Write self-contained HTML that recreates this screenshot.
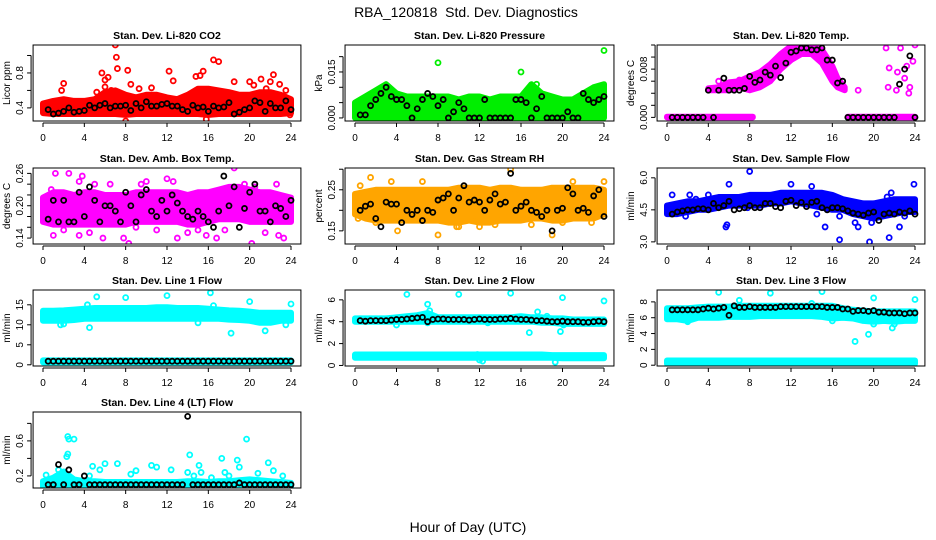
<!DOCTYPE html>
<html><head><meta charset="utf-8">
<style>
body{margin:0;background:#fff;}
svg{display:block;font-family:"Liberation Sans",Arial,sans-serif;}
.pt{fill:none;stroke-width:1.8;}
</style></head>
<body>
<svg id="chart" width="936" height="540" viewBox="0 0 936 540" xmlns="http://www.w3.org/2000/svg">
<rect width="936" height="540" fill="#fff"/>
<text x="466" y="17" font-size="14" text-anchor="middle">RBA_120818&#160; Std. Dev. Diagnostics</text>
<text x="468" y="532" font-size="14" text-anchor="middle">Hour of Day (UTC)</text>
</svg>
<script>
// shared hours
const blackHours=[0.5,1,1.5,2,2.5,3,3.5,4,4.5,5,5.5,6,6.5,7,7.5,8,8.5,9,9.5,10,10.5,11,11.5,12,12.5,13,13.5,14,14.5,15,15.5,16,16.5,17,17.5,18,18.5,19,19.5,20,20.5,21,21.5,22,22.5,23,23.5,24];
const bandHours=[0,1,2,3,4,5,6,7,8,9,10,11,12,13,14,15,16,17,18,19,20,21,22,23,24];
const xTicks=[0,4,8,12,16,20,24];

// P1 CO2
const co2Black=[0.38,0.33,0.34,0.36,0.40,0.35,0.36,0.37,0.43,0.40,0.43,0.45,0.40,0.42,0.42,0.43,0.37,0.45,0.40,0.47,0.42,0.42,0.44,0.45,0.42,0.42,0.38,0.36,0.43,0.40,0.41,0.36,0.42,0.40,0.41,0.46,0.33,0.35,0.38,0.40,0.48,0.46,0.36,0.45,0.40,0.40,0.48,0.38];
const co2Lo=[0.34,0.33,0.33,0.33,0.33,0.33,0.33,0.33,0.32,0.33,0.33,0.33,0.33,0.33,0.33,0.33,0.32,0.33,0.33,0.33,0.33,0.33,0.33,0.33,0.34];
const co2Hi=[0.45,0.48,0.50,0.48,0.48,0.50,0.58,0.60,0.55,0.52,0.55,0.55,0.52,0.50,0.55,0.62,0.62,0.60,0.58,0.55,0.55,0.58,0.58,0.55,0.50];
const co2OutX=[1.8,2,5.7,6,6.3,6,6.6,7,7.1,7.2,8.2,8.5,5.2,12.2,12.6,14.8,15.2,15.5,16.5,17,18.5,20,20.4,21.1,21.6,22.3,22,22.9,23.5,8,15.8,23.9,10.5,9.3];
const co2OutY=[0.6,0.68,0.8,0.72,0.75,0.64,0.6,1.12,0.98,0.85,0.83,0.67,0.58,0.82,0.71,0.76,0.77,0.82,0.95,0.93,0.7,0.7,0.66,0.73,0.62,0.78,0.7,0.67,0.6,0.25,0.27,0.32,0.63,0.62];

// P2 Pressure
const presBlack=[0.001,0.001,0.004,0.006,0.008,0.010,0.007,0.006,0.006,0.004,0.000,0.003,0.006,0.008,0.007,0.004,0.006,0.000,0.002,0.005,0.003,0.000,0.000,0.000,0.006,0.000,0.000,0.000,0.000,0.000,0.006,0.006,0.005,0.000,0.003,0.007,0.000,0.000,0.000,0.000,0.002,0.000,0.000,0.008,0.006,0.005,0.006,0.007];
const presLo=[0,0,0,0,0,0,0,0,0,0,0,0,0,0,0,0,0,0,0,0,0,0,0,0,0];
const presHi=[0.005,0.007,0.009,0.011,0.008,0.007,0.007,0.007,0.007,0.007,0.006,0.007,0.007,0.006,0.007,0.007,0.007,0.011,0.008,0.007,0.006,0.006,0.008,0.010,0.011];
const presOutX=[8,16,24,17.5,23.5,9.5];
const presOutY=[0.018,0.015,0.022,0.011,0.010,0.004];

// P3 Temp
const tempBlack=[0,0,0,0,0,0,0,0.0045,0,0.0045,0.0065,0.0045,0.0045,0.0045,0.0048,0.0068,0.0058,0.0062,0.0075,0.007,0.0085,0.0066,0.009,0.0108,0.011,0.0115,0.0115,0.0112,0.0112,0.0115,0.0095,0.0095,0.0057,0.006,0,0,0,0,0,0,0,0,0,0,0.0055,0.0080,0.0102,0];
const tempArchX=[4,5,6,7,8,9,10,11,12,13,14,15,16,16.5,17.2];
const tempArchLo=[0.0045,0.0045,0.0045,0.005,0.0045,0.005,0.006,0.008,0.0095,0.0105,0.0105,0.009,0.006,0.005,0.0045];
const tempArchHi=[0.0048,0.005,0.0058,0.006,0.0068,0.0075,0.0088,0.0105,0.0118,0.0118,0.0118,0.0112,0.0085,0.0065,0.005];
const tempZeroX1=[0,8.3];const tempZeroX2=[17.5,24];
const tempZeroLo=[0,0];const tempZeroHi=[0.0001,0.0001];
const tempOutX=[21.2,21.5,21.4,22.2,22.3,22.6,23,23.2,23.4,23.8,24,23.5,18.5,5,6,7];
const tempOutY=[0.0115,0.0082,0.005,0.0045,0.0075,0.0115,0.0065,0.0085,0.004,0.0093,0.012,0.005,0.0045,0.006,0.0055,0.0062];

// P4 Amb Box Temp
const ambBlack=[0.175,0.21,0.17,0.21,0.17,0.17,0.225,0.18,0.235,0.21,0.17,0.2,0.2,0.19,0.17,0.225,0.2,0.17,0.22,0.23,0.19,0.18,0.21,0.19,0.22,0.205,0.19,0.18,0.175,0.19,0.18,0.17,0.16,0.19,0.255,0.2,0.235,0.16,0.195,0.225,0.24,0.19,0.19,0.17,0.2,0.195,0.18,0.21];
const ambLo=[0.17,0.165,0.165,0.165,0.165,0.165,0.165,0.165,0.165,0.17,0.17,0.17,0.17,0.17,0.165,0.165,0.17,0.175,0.175,0.175,0.17,0.17,0.17,0.17,0.17];
const ambHi=[0.215,0.225,0.225,0.22,0.225,0.225,0.22,0.22,0.22,0.225,0.225,0.225,0.225,0.225,0.22,0.225,0.225,0.23,0.235,0.235,0.23,0.225,0.225,0.22,0.215];
const ambOutX=[1.2,2.5,3.5,3.8,1,3.5,4.5,5.8,7.8,8.3,9.5,10,12,12.6,13,14,15.8,16.8,18.5,19.5,20.2,22.6,22.8,23.3,17.6,21.5,2,6.5,11,0.8,5,9,15,20.5];
const ambOutY=[0.26,0.26,0.245,0.255,0.145,0.145,0.15,0.14,0.14,0.13,0.24,0.245,0.25,0.245,0.14,0.15,0.145,0.14,0.27,0.24,0.13,0.24,0.145,0.14,0.155,0.15,0.155,0.24,0.155,0.23,0.24,0.16,0.155,0.235];

// P5 Gas Stream RH
const rhBlack=[0.2,0.21,0.215,0.18,0.16,0.22,0.215,0.215,0.17,0.2,0.19,0.2,0.175,0.2,0.195,0.225,0.23,0.24,0.2,0.23,0.26,0.22,0.225,0.22,0.2,0.225,0.24,0.215,0.22,0.29,0.2,0.21,0.22,0.2,0.195,0.185,0.2,0.15,0.2,0.205,0.255,0.24,0.2,0.205,0.195,0.235,0.25,0.185];
const rhLo=[0.19,0.18,0.175,0.175,0.175,0.175,0.175,0.175,0.175,0.17,0.17,0.175,0.17,0.17,0.175,0.175,0.175,0.18,0.18,0.175,0.175,0.18,0.18,0.18,0.19];
const rhHi=[0.24,0.245,0.25,0.25,0.25,0.25,0.25,0.25,0.25,0.25,0.255,0.255,0.255,0.25,0.255,0.255,0.25,0.25,0.25,0.255,0.255,0.255,0.255,0.255,0.25];
const rhOutX=[0.5,1.5,2,4,4.1,8,15,19,24,12,20,22.8,10,3.5,6.5,9.8,13.5,17,21,0.3];
const rhOutY=[0.26,0.28,0.17,0.11,0.15,0.14,0.3,0.14,0.27,0.16,0.17,0.17,0.16,0.27,0.27,0.16,0.165,0.165,0.27,0.18];

// P6 Sample Flow
const sampBlack=[4.3,4.4,4.45,4.5,4.5,4.55,4.55,4.5,4.8,4.6,4.7,4.9,4.5,4.55,4.6,4.7,4.6,4.6,4.8,4.8,4.65,4.6,4.9,4.95,4.7,4.85,4.65,4.85,4.9,4.6,4.5,4.6,4.6,4.55,4.45,4.35,4.3,4.25,4.35,4.4,4.0,4.3,4.35,4.3,4.4,4.35,4.45,4.3];
const sampLo=[4.3,4.3,4.4,4.5,4.5,4.6,4.7,4.7,4.7,4.7,4.8,4.8,4.9,4.8,4.7,4.6,4.5,4.5,4.3,4.2,4.1,4.2,4.3,4.4,4.4];
const sampHi=[4.7,4.8,4.9,4.9,5.0,5.1,5.1,5.1,5.2,5.2,5.2,5.3,5.3,5.3,5.3,5.3,5.2,5.0,4.9,4.8,4.8,4.9,5.0,5.0,5.0];
const sampOutX=[0.5,2.2,4,6,8,12,14,5.7,5.8,7.8,14.5,15.3,16.7,16.7,18.2,18.5,19.6,19.8,21.5,22.5,23,23.9,21.7,21.3,1.8,2.8];
const sampOutY=[5.2,5.2,5.2,5.7,6.3,5.7,5.6,3.7,3.8,4.6,4.3,3.7,3.1,4.2,3.9,3.7,3.0,3.9,3.2,3.7,4.2,5.7,5.3,5.1,4.2,5.0];

// P7 Line 1 Flow
const l1Black=[0.9,0.9,0.9,0.9,0.9,0.9,0.9,0.9,0.9,0.9,0.9,0.9,0.9,0.9,0.9,0.9,0.9,0.9,0.9,0.9,0.9,0.9,0.9,0.9,0.9,0.9,0.9,0.9,0.9,0.9,0.9,0.9,0.9,0.9,0.9,0.9,0.9,0.9,0.9,0.9,0.9,0.9,0.9,0.9,0.9,0.9,0.9,0.9];
const l1Lo=[11,11,11,11.2,11.5,11.5,11.5,11.5,11.5,11.5,11.5,11.5,11.5,11.5,11.5,11.5,11.5,11.5,11.3,11.2,11,10.5,10.5,11,11];
const l1Hi=[13.5,13.5,13.6,13.8,14,14.2,14.2,14.2,14.2,14.2,14.2,14.4,14.4,14.2,14.2,14.2,14,13.8,13.6,13.5,13.3,13,13,13,13];
const l1BaseLo=[0.6,0.6,0.6,0.6,0.6,0.6,0.6,0.6,0.6,0.6,0.6,0.6,0.6,0.6,0.6,0.6,0.6,0.6,0.6,0.6,0.6,0.6,0.6,0.6,0.6];
const l1BaseHi=[1.1,1.1,1.1,1.1,1.1,1.1,1.1,1.1,1.1,1.1,1.1,1.1,1.1,1.1,1.1,1.1,1.1,1.1,1.1,1.1,1.1,1.1,1.1,1.1,1.1];
const l1OutX=[5.2,8,12,16.2,20,24,4.3,4.5,1.7,18.2,21.5,23.5,16.5,15,2];
const l1OutY=[17,16.8,17.3,18,15.8,15.2,15,9.3,10,7.9,8.5,10,14.8,10.5,10.2];

// P8 Line 2 Flow
const l2Black=[4.1,4.05,4.1,4.1,4.1,4.1,4.15,4.2,4.2,4.25,4.3,4.35,4.4,4.0,4.2,4.25,4.25,4.2,4.2,4.2,4.2,4.15,4.2,4.25,4.2,4.2,4.2,4.25,4.25,4.3,4.25,4.2,4.2,4.15,4.1,4.1,4.05,4.0,4.0,4.05,4.0,4.0,4.0,3.95,3.95,4.0,4.05,4.0];
const l2Lo=[4.0,4.0,4.0,4.0,4.0,4.0,4.0,4.0,4.0,4.0,4.0,4.0,4.0,4.0,4.0,4.0,4.0,4.0,3.9,3.9,3.8,3.8,3.8,3.8,3.8];
const l2Hi=[4.3,4.3,4.3,4.3,4.4,4.5,4.6,4.8,4.4,4.4,4.4,4.4,4.4,4.4,4.4,4.4,4.5,4.4,4.4,4.3,4.3,4.2,4.2,4.2,4.2];
const l2BaseLo=[0.7,0.7,0.7,0.7,0.7,0.7,0.7,0.7,0.7,0.7,0.7,0.7,0.7,0.7,0.7,0.7,0.7,0.7,0.7,0.7,0.65,0.65,0.65,0.65,0.65];
const l2BaseHi=[1.0,1.0,1.0,1.0,1.0,1.0,1.0,1.0,1.0,1.0,1.0,1.0,1.0,1.0,1.0,1.0,1.0,1.0,1.0,0.95,0.95,0.95,0.95,0.95,0.95];
const l2OutX=[5,10,15,20,24,7,7.2,4,7,12.8,17.6,18.5,19.8,20.1,16.8,19.3,12,12.3,11.8];
const l2OutY=[6.5,6.5,6.6,6.2,5.9,5.6,5.0,3.7,3.9,3.9,4.9,4.5,3.1,3.7,3.0,0.3,0.5,0.4,1.0];

// P9 Line 3 Flow
const l3Black=[7.0,7.0,7.0,7.0,7.0,7.0,7.1,7.2,7.1,7.2,7.3,6.3,7.5,7.3,7.3,7.4,7.3,7.3,7.3,7.3,7.3,7.4,7.4,7.4,7.4,7.4,7.4,7.4,7.4,7.4,7.3,7.3,7.3,7.1,7.1,6.8,6.9,6.9,6.8,6.9,6.7,6.7,6.6,6.6,6.6,6.5,6.6,6.6];
const l3Lo=[5.8,5.8,5.6,6,6,6,6.1,6.1,6.1,6.2,6.2,6.2,6.2,6.2,6.2,6.1,5.9,6,5.9,5.6,5.5,5.6,5.5,5.6,5.6];
const l3Hi=[7.2,7.2,7.2,7.3,7.4,7.4,7.4,7.5,7.5,7.5,7.5,7.5,7.5,7.5,7.5,7.5,7.5,7.2,7.0,6.9,6.8,6.8,6.8,6.8,6.8];
const l3BaseLo=[0.2,0.2,0.2,0.2,0.2,0.2,0.2,0.2,0.2,0.2,0.2,0.2,0.2,0.2,0.2,0.2,0.2,0.2,0.2,0.2,0.2,0.2,0.2,0.2,0.2];
const l3BaseHi=[0.6,0.6,0.6,0.6,0.6,0.6,0.6,0.6,0.6,0.6,0.6,0.6,0.6,0.6,0.6,0.6,0.6,0.6,0.6,0.6,0.6,0.6,0.6,0.6,0.6];
const l3OutX=[5,10,15,20,24,7,18.2,19.5,21.8,20,22,14,2,16];
const l3OutY=[9.2,9.1,9.3,8.5,8.3,8.2,3.0,3.9,4.7,5.2,5.2,7.8,5.5,5.6];

// P10 Line 4 (LT) Flow
const l4Black=[0.1,0.1,0.33,0.1,0.27,0.1,0.1,0.2,0.1,0.1,0.1,0.1,0.1,0.1,0.1,0.1,0.1,0.1,0.1,0.1,0.1,0.1,0.1,0.1,0.1,0.1,0.1,0.88,0.1,0.1,0.1,0.1,0.1,0.1,0.1,0.1,0.1,0.12,0.1,0.1,0.1,0.1,0.1,0.1,0.1,0.1,0.1,0.1];
const l4Lo=[0.07,0.07,0.07,0.07,0.07,0.07,0.07,0.07,0.07,0.07,0.07,0.07,0.07,0.07,0.07,0.07,0.07,0.07,0.07,0.07,0.07,0.07,0.07,0.07,0.07];
const l4Hi=[0.14,0.18,0.25,0.16,0.14,0.14,0.13,0.13,0.13,0.13,0.13,0.13,0.13,0.13,0.14,0.14,0.13,0.14,0.14,0.15,0.16,0.15,0.14,0.13,0.12];
const l4OutX=[0.3,1.5,2.4,2.5,3,2.3,2.4,4.5,4.8,5.5,6,7.2,8.5,9,10.5,11,12.4,14,14.2,14.6,15.1,15.3,16.3,17.3,17.6,18,18.8,19,19.7,20.8,21.8,22.3,23.2];
const l4OutY=[0.21,0.27,0.65,0.62,0.62,0.42,0.45,0.2,0.31,0.27,0.34,0.34,0.22,0.26,0.32,0.3,0.27,0.24,0.44,0.2,0.32,0.24,0.18,0.4,0.24,0.2,0.38,0.3,0.62,0.23,0.35,0.26,0.2];

const svg=document.getElementById('chart');
const NS='http://www.w3.org/2000/svg';
function mk(tag,attrs,parent){const e=document.createElementNS(NS,tag);for(const k in attrs)e.setAttribute(k,attrs[k]);(parent||svg).appendChild(e);return e;}

const colX=[[43,291],[355,604],[667,915]];
const rowTop=[45,168,290,412];
const H=76;

const panels=[
 {name:'co2',title:'Stan. Dev. Li-820 CO2',ylab:'Licor ppm',col:0,row:0,ymin:0.25,ymax:1.12,ticks:[0.4,0.6,0.8,1.0],labels:['0.4','','0.8',''],color:'#ff0000',
  bands:[[bandHours,co2Lo,co2Hi]],outX:co2OutX,outY:co2OutY,black:co2Black},
 {name:'pressure',title:'Stan. Dev. Li-820 Pressure',ylab:'kPa',col:1,row:0,ymin:-0.001,ymax:0.0238,ticks:[0,0.005,0.01,0.015,0.02],labels:['0.000','','','0.015',''],color:'#00ee00',
  bands:[[bandHours,presLo,presHi]],outX:presOutX,outY:presOutY,black:presBlack},
 {name:'li820-temp',title:'Stan. Dev. Li-820 Temp.',ylab:'degrees C',col:2,row:0,ymin:-0.0006,ymax:0.012,ticks:[0,0.002,0.004,0.006,0.008,0.010,0.012],labels:['0.000','','','','0.008','',''],color:'#ff00ff',
  bands:[[tempArchX,tempArchLo,tempArchHi],[tempZeroX1,tempZeroLo,tempZeroHi],[tempZeroX2,tempZeroLo,tempZeroHi]],outX:tempOutX,outY:tempOutY,black:tempBlack},
 {name:'amb-box-temp',title:'Stan. Dev. Amb. Box Temp.',ylab:'degrees C',col:0,row:1,ymin:0.129,ymax:0.27,ticks:[0.14,0.16,0.18,0.20,0.22,0.24,0.26],labels:['0.14','','','0.20','','','0.26'],color:'#ff00ff',
  bands:[[bandHours,ambLo,ambHi]],outX:ambOutX,outY:ambOutY,black:ambBlack},
 {name:'gas-stream-rh',title:'Stan. Dev. Gas Stream RH',ylab:'percent',col:1,row:1,ymin:0.118,ymax:0.303,ticks:[0.15,0.2,0.25,0.3],labels:['0.15','','0.25',''],color:'#ffa500',
  bands:[[bandHours,rhLo,rhHi]],outX:rhOutX,outY:rhOutY,black:rhBlack},
 {name:'sample-flow',title:'Stan. Dev. Sample Flow',ylab:'ml/min',col:2,row:1,ymin:2.9,ymax:6.46,ticks:[3,4.5,6],labels:['3.0','4.5','6.0'],color:'#0000ff',
  bands:[[bandHours,sampLo,sampHi]],outX:sampOutX,outY:sampOutY,black:sampBlack},
 {name:'line1-flow',title:'Stan. Dev. Line 1 Flow',ylab:'ml/min',col:0,row:2,ymin:-0.3,ymax:18.7,ticks:[0,5,10,15],labels:['0','5','10','15'],color:'#00ffff',
  bands:[[bandHours,l1Lo,l1Hi],[bandHours,l1BaseLo,l1BaseHi]],outX:l1OutX,outY:l1OutY,black:l1Black},
 {name:'line2-flow',title:'Stan. Dev. Line 2 Flow',ylab:'ml/min',col:1,row:2,ymin:-0.05,ymax:6.9,ticks:[0,2,4,6],labels:['0','2','4','6'],color:'#00ffff',
  bands:[[bandHours,l2Lo,l2Hi],[bandHours,l2BaseLo,l2BaseHi]],outX:l2OutX,outY:l2OutY,black:l2Black},
 {name:'line3-flow',title:'Stan. Dev. Line 3 Flow',ylab:'ml/min',col:2,row:2,ymin:-0.1,ymax:9.5,ticks:[0,2,4,6,8],labels:['0','2','4','6','8'],color:'#00ffff',
  bands:[[bandHours,l3Lo,l3Hi],[bandHours,l3BaseLo,l3BaseHi]],outX:l3OutX,outY:l3OutY,black:l3Black},
 {name:'line4-flow',title:'Stan. Dev. Line 4 (LT) Flow',ylab:'ml/min',col:0,row:3,ymin:0.062,ymax:0.93,ticks:[0.2,0.4,0.6,0.8],labels:['0.2','','0.6',''],color:'#00ffff',
  bands:[[bandHours,l4Lo,l4Hi]],outX:l4OutX,outY:l4OutY,black:l4Black}
];

panels.forEach(p=>{
  const [x0,x24]=colX[p.col];const k=(x24-x0)/24;
  const left=x0-0.96*k,right=x24+0.96*k;
  const top=rowTop[p.row],bot=top+H;
  const sx=h=>x0+h*k;
  const sy=v=>bot-(v-p.ymin)/(p.ymax-p.ymin)*H;
  const g=mk('g',{});
  
  
  const clip=mk('clipPath',{id:'clip-'+p.name},g);
  mk('rect',{x:left,y:top,width:right-left,height:H},clip);
  const plot=mk('g',{'clip-path':'url(#clip-'+p.name+')'},g);
  
  
  p.bands.forEach(b=>{
    const [bx,lo,hi]=b;let d='';
    bx.forEach((h,i)=>{d+=(i?'L':'M')+sx(h).toFixed(1)+','+sy(hi[i]).toFixed(1);});
    for(let i=bx.length-1;i>=0;i--){d+='L'+sx(bx[i]).toFixed(1)+','+sy(lo[i]).toFixed(1);}
    d+='Z';
    const band=mk('path',{d:d,fill:p.color,stroke:p.color,'stroke-width':6,'stroke-linejoin':'round'},plot);
    
    
  });
  p.outX.forEach((h,i)=>{
    const c=mk('circle',{cx:sx(h),cy:sy(p.outY[i]),r:2.5,class:'pt',stroke:p.color},plot);
    
    
  });
  p.black.forEach((v,i)=>{
    const c=mk('circle',{cx:sx(blackHours[i]),cy:sy(v),r:2.5,class:'pt',stroke:'#000'},plot);
    
    
  });
  const box=mk('rect',{x:left,y:top,width:right-left,height:H,fill:'none',stroke:'#000','stroke-width':1},g);
  
  
  const t=mk('text',{x:(left+right)/2,y:top-6,'font-size':10.5,'font-weight':'bold','text-anchor':'middle'},g);
  t.textContent=p.title;
  
  
  const ax=mk('g',{},g);
  
  
  mk('line',{x1:sx(0),x2:sx(24),y1:bot+2,y2:bot+2,stroke:'#000'},ax);
  xTicks.forEach(h=>{
    mk('line',{x1:sx(h),x2:sx(h),y1:bot+2,y2:bot+6,stroke:'#000'},ax);
    const tl=mk('text',{x:sx(h),y:bot+20,'font-size':10,'text-anchor':'middle'},ax);
    tl.textContent=String(h);
    
    
  });
  const ay=mk('g',{},g);
  
  
  mk('line',{x1:left-2,x2:left-2,y1:sy(p.ticks[0]),y2:sy(p.ticks[p.ticks.length-1]),stroke:'#000'},ay);
  p.ticks.forEach((v,i)=>{
    const y=sy(v);
    mk('line',{x1:left-6,x2:left-2,y1:y,y2:y,stroke:'#000'},ay);
    if(p.labels[i]){
      const tl=mk('text',{x:left-10,y:y,'font-size':10,'text-anchor':'middle',transform:'rotate(-90 '+(left-10)+' '+y+')'},ay);
      tl.textContent=p.labels[i];
      
      
    }
  });
  const yl=mk('text',{x:left-23,y:(top+bot)/2,'font-size':10,'text-anchor':'middle',transform:'rotate(-90 '+(left-23)+' '+(top+bot)/2+')'},ay);
  yl.textContent=p.ylab;
  
  
});
</script>
</body></html>
